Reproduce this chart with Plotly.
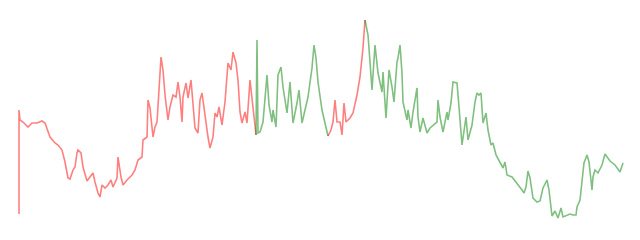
import plotly.graph_objects as go

# day index and value (arbitrary units)
day = [
    0, 0, 1, 4, 9, 13, 18, 23, 26, 28, 31, 36, 39, 43, 46, 49, 51, 54, 56, 58,
    59, 62, 64, 68, 71, 74, 76, 79, 81, 83, 86, 89, 92, 94, 98, 99, 102, 104, 108, 113,
    116, 119, 123, 124, 128, 129, 131, 134, 136, 138, 140, 142, 144, 146, 149, 151, 154, 157, 159, 161,
    163, 164, 167, 169, 172, 174, 176, 179, 181, 183, 186, 189, 191, 194, 196, 198, 200, 203, 206, 208,
    209, 212, 214, 217, 219, 221, 223, 226, 228, 231, 234, 237,
    238, 239, 241, 244, 246, 248, 250, 253, 254, 257, 259, 262, 264, 268, 271, 274, 278, 280, 283, 286,
    289, 293, 295, 297, 299, 303, 306, 309,
    312, 314, 316, 318, 321, 323, 325, 327, 331, 334, 338, 341, 344, 346,
    349, 351, 353, 356, 359, 363, 364, 367, 369, 370, 373, 375, 378, 379, 381, 383, 384, 388, 389, 392,
    394, 398, 399, 401, 404, 408, 411, 414, 418, 419, 421, 424, 428, 429, 432, 434, 438, 440, 443, 447,
    449, 453, 456, 458, 460, 462, 464, 467, 469, 472, 474, 477, 480, 484, 486, 488, 493, 498, 503, 505,
    507, 509, 511, 514, 518, 521, 524, 528, 530, 533, 536, 539, 542, 544, 548, 551, 554, 557, 558, 561,
    564, 565, 568, 570, 573, 574, 576, 579, 583, 586, 591, 596, 601, 604,
]
value = [
    1, 105, 95, 93, 88, 92, 92, 94, 92, 87, 78, 72, 70, 65, 53, 37, 36, 45, 48, 62,
    65, 62, 48, 34, 38, 42, 33, 22, 18, 30, 27, 30, 35, 28, 37, 58, 38, 30, 35, 40,
    45, 55, 58, 75, 78, 115, 107, 78, 88, 93, 125, 158, 145, 120, 95, 108, 120, 118, 133, 118,
    93, 118, 132, 117, 135, 113, 87, 82, 115, 122, 98, 78, 67, 78, 102, 98, 108, 90, 113, 135,
    152, 145, 163, 152, 135, 103, 92, 103, 92, 135, 107, 80,
    175, 82, 83, 93, 120, 140, 110, 93, 105, 88, 140, 148, 128, 102, 133, 92, 112, 125, 92, 105,
    118, 147, 170, 157, 133, 105, 93, 79,
    85, 93, 115, 93, 93, 80, 112, 93, 97, 102, 120, 138, 167, 195,
    180, 153, 125, 170, 142, 123, 143, 97, 133, 145, 128, 113, 153, 157, 170, 142, 113, 95, 105, 87,
    103, 127, 98, 83, 97, 82, 87, 90, 93, 115, 98, 83, 103, 95, 112, 133, 132, 108, 70, 98,
    75, 90, 113, 122, 120, 122, 92, 102, 85, 70, 72, 60, 55, 47, 53, 40, 38, 32, 25, 22,
    28, 44, 37, 17, 13, 14, 27, 35, 25, -1, 4, -3, 7, -2, 0, 1, 0, 0, 8, 15,
    43, 52, 60, 53, 25, 38, 45, 42, 50, 61, 54, 50, 43, 52,
]
# regime changes (day at which the colour switches), starting regime first
regime_change_days = [237, 309, 346]
regimes = ["down", "up", "down", "up"]
regime_colors = {"down": "rgba(255,0,0,0.5)", "up": "rgba(0,128,0,0.5)"}

fig = go.Figure()
bounds = [0] + [day.index(d) for d in regime_change_days] + [len(day) - 1]
for k, reg in enumerate(regimes):
    i0, i1 = bounds[k], bounds[k + 1]
    fig.add_trace(go.Scatter(
        x=day[i0:i1 + 1], y=value[i0:i1 + 1], mode="lines",
        line=dict(color=regime_colors[reg], width=1.6),
        hoverinfo="skip", showlegend=False,
    ))

fig.update_layout(
    width=640, height=240,
    margin=dict(l=0, r=0, t=0, b=0),
    paper_bgcolor="white", plot_bgcolor="white",
    xaxis=dict(range=[-19, 621], visible=False),
    yaxis=dict(range=[-25, 215], visible=False),
)
fig.write_html("out.html")
